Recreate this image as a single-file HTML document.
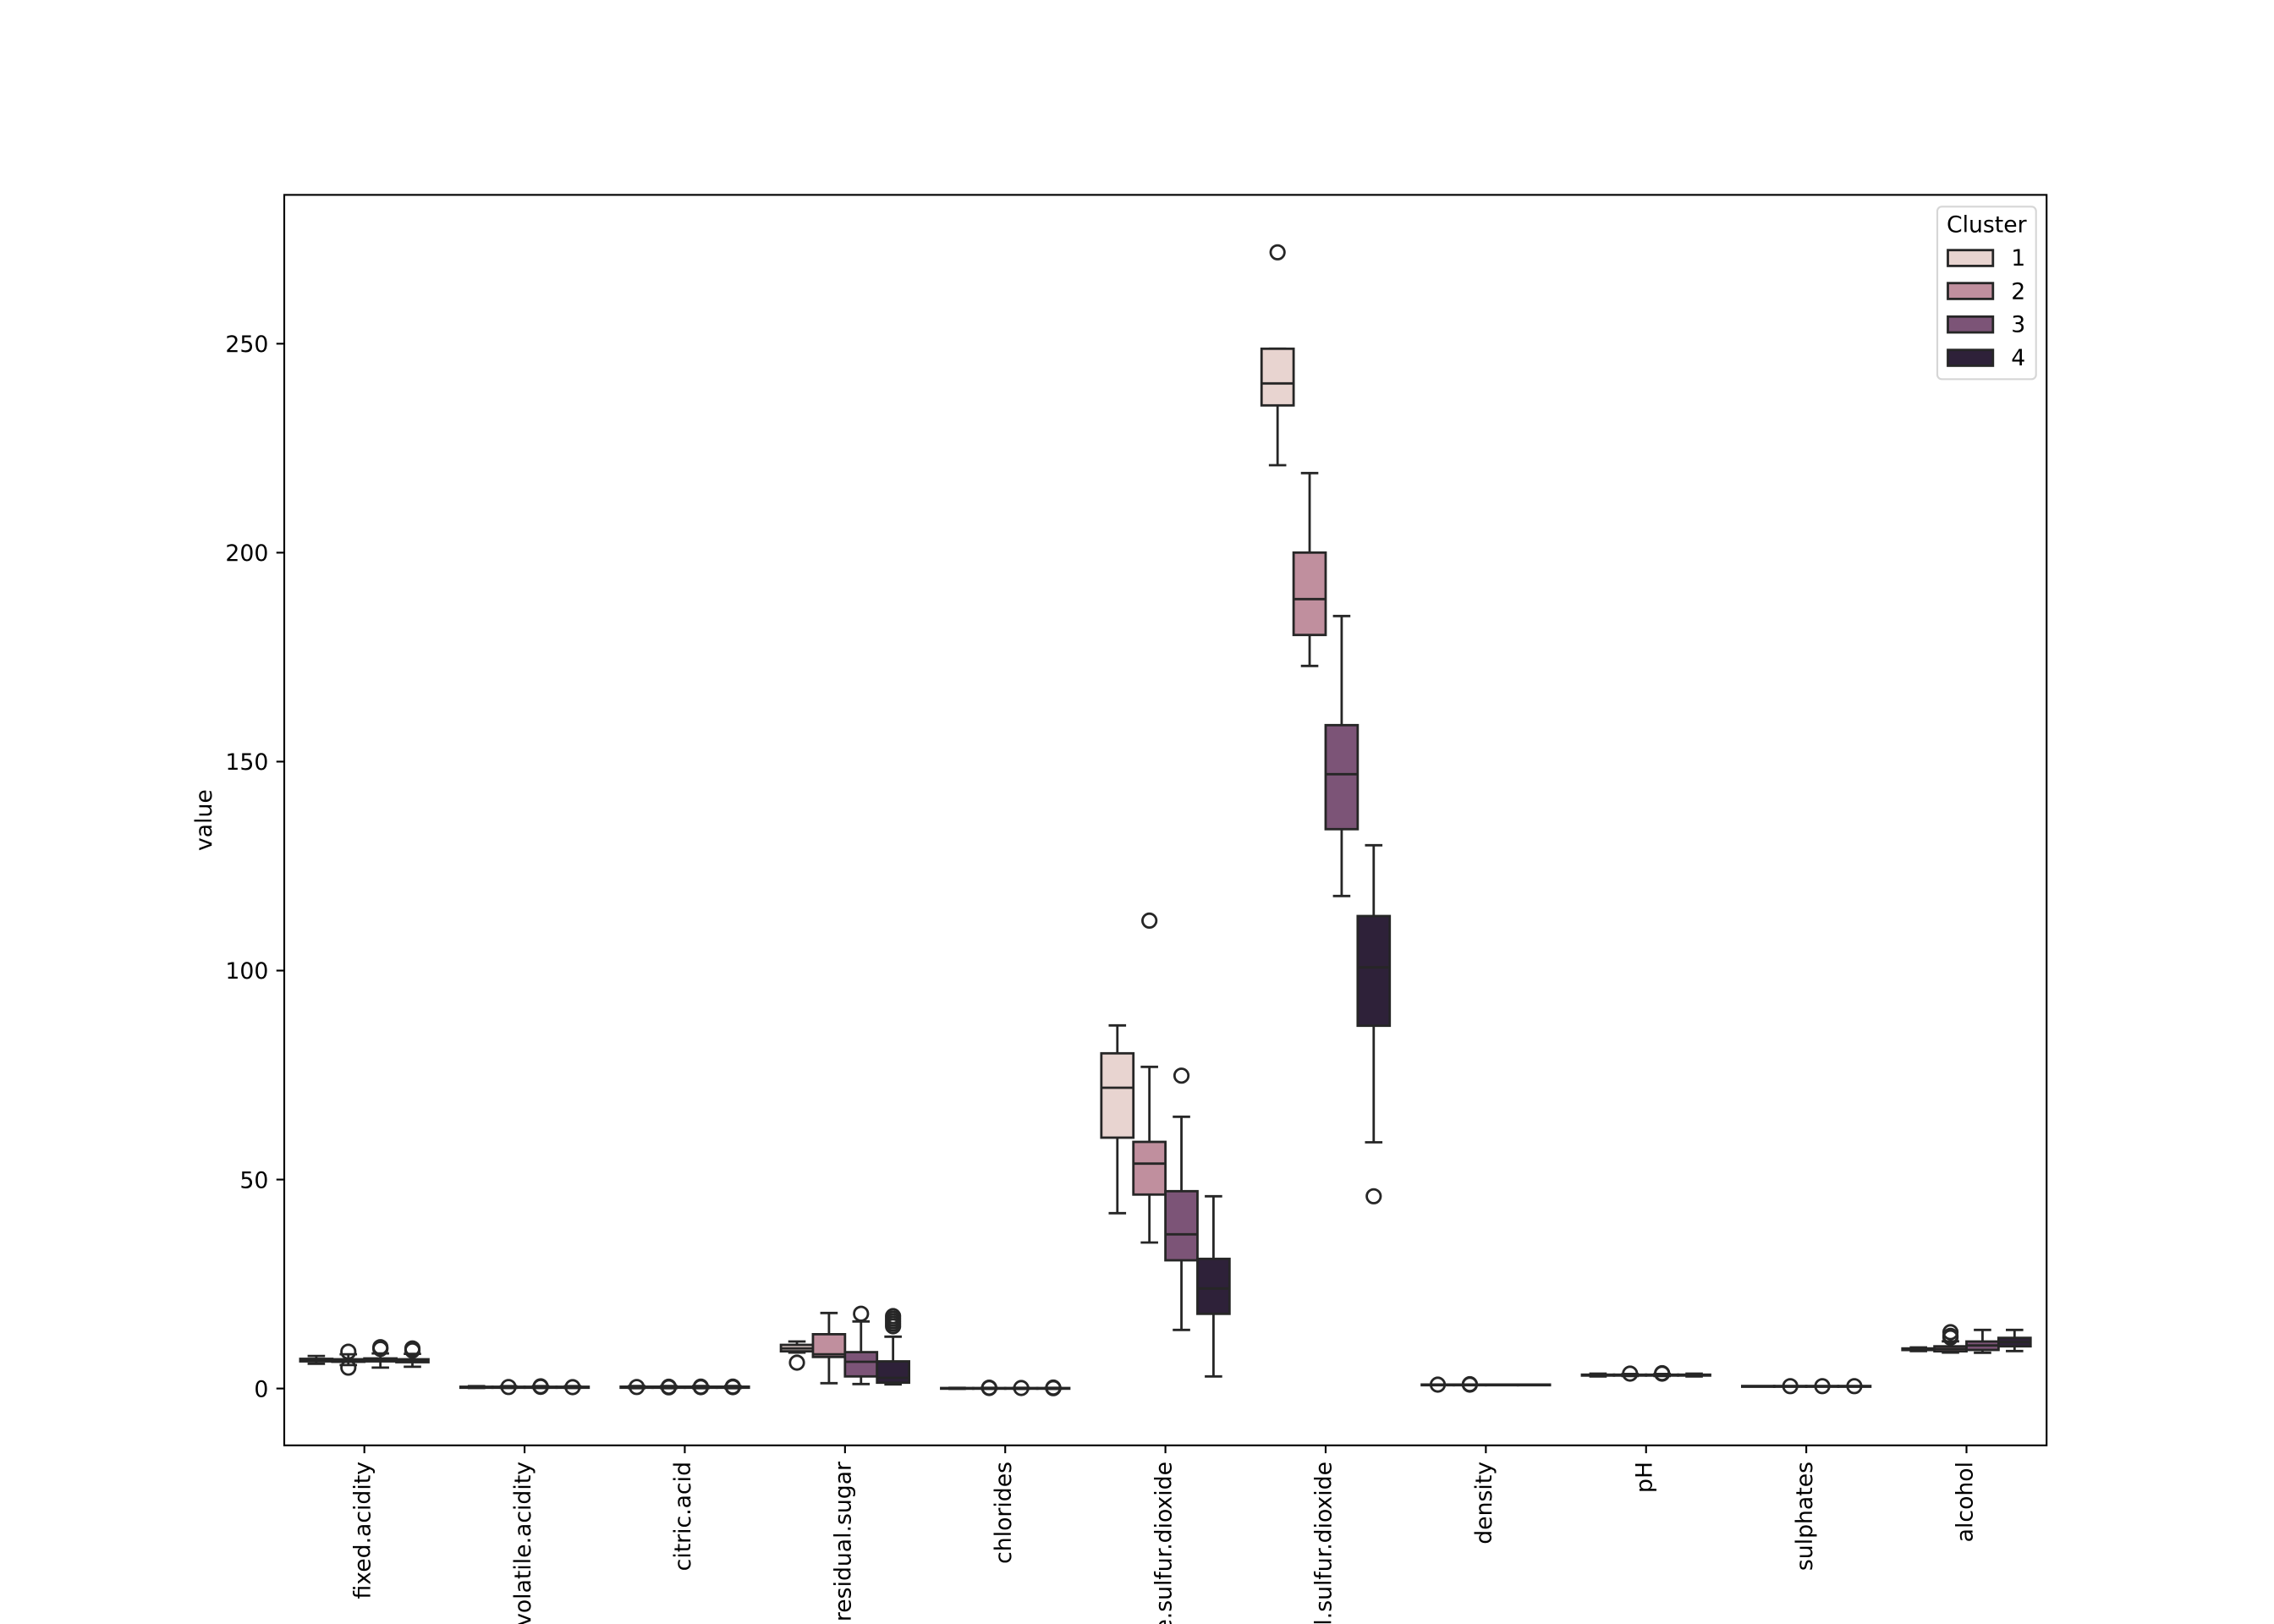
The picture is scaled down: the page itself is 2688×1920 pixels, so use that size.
<!DOCTYPE html>
<html>
<head>
<meta charset="utf-8">
<style>
html,body{margin:0;padding:0;background:#ffffff;}
svg{display:block;}
text{font-family:"DejaVu Sans","Liberation Sans",sans-serif;fill:#000;}
</style>
</head>
<body>
<svg width="2688" height="1920" viewBox="0 0 2688 1920" xmlns="http://www.w3.org/2000/svg">
<rect x="0" y="0" width="2688" height="1920" fill="#ffffff"/>

<!-- boxes -->
<g stroke="#262626" stroke-width="2.8" stroke-linecap="butt">

<!-- ===== fixed.acidity ===== -->
<g>
<line x1="373.88" y1="1606.5" x2="373.88" y2="1603.1"/><line x1="373.88" y1="1609.5" x2="373.88" y2="1612.4"/>
<line x1="363.6" y1="1603.1" x2="384.2" y2="1603.1"/><line x1="363.6" y1="1612.4" x2="384.2" y2="1612.4"/>
<rect x="354.94" y="1606.5" width="37.88" height="3.0" fill="#e8d4d0"/>
<line x1="354.94" y1="1608" x2="392.82" y2="1608"/>

<line x1="411.75" y1="1607.0" x2="411.75" y2="1601.1"/><line x1="411.75" y1="1610.0" x2="411.75" y2="1613.9"/>
<line x1="401.45" y1="1601.1" x2="422.05" y2="1601.1"/><line x1="401.45" y1="1613.9" x2="422.05" y2="1613.9"/>
<rect x="392.81" y="1607.0" width="37.88" height="3.0" fill="#c08f9e"/>
<line x1="392.81" y1="1608.5" x2="430.69" y2="1608.5"/>
<circle cx="411.75" cy="1598.1" r="8.2" fill="none"/><circle cx="411.75" cy="1616.9" r="8.2" fill="none"/>

<line x1="449.63" y1="1606.0" x2="449.63" y2="1600.1"/><line x1="449.63" y1="1609.5" x2="449.63" y2="1616.9"/>
<line x1="439.33" y1="1600.1" x2="459.93" y2="1600.1"/><line x1="439.33" y1="1616.9" x2="459.93" y2="1616.9"/>
<rect x="430.69" y="1606.0" width="37.88" height="3.5" fill="#7c5477"/>
<line x1="430.69" y1="1607.5" x2="468.57" y2="1607.5"/>
<circle cx="449.63" cy="1593.7" r="8.2" fill="none"/><circle cx="449.63" cy="1592.7" r="8.2" fill="none"/><circle cx="449.63" cy="1594.7" r="8.2" fill="none"/>

<line x1="487.50" y1="1607.0" x2="487.50" y2="1600.6"/><line x1="487.50" y1="1610.5" x2="487.50" y2="1615.9"/>
<line x1="477.2" y1="1600.6" x2="497.8" y2="1600.6"/><line x1="477.2" y1="1615.9" x2="497.8" y2="1615.9"/>
<rect x="468.56" y="1607.0" width="37.88" height="3.5" fill="#2e2139"/>
<line x1="468.56" y1="1609" x2="506.44" y2="1609"/>
<circle cx="487.50" cy="1596.6" r="8.2" fill="none"/><circle cx="487.50" cy="1595.2" r="8.2" fill="none"/><circle cx="487.50" cy="1594.2" r="8.2" fill="none"/>
</g>

<!-- ===== volatile.acidity ===== -->
<g>
<rect x="544.32" y="1639.5" width="37.88" height="1.2" fill="#e8d4d0"/>
<line x1="552.96" y1="1638.8" x2="573.56" y2="1638.8"/><line x1="552.96" y1="1641.0" x2="573.56" y2="1641.0"/>
<rect x="582.19" y="1639.5" width="37.88" height="1.2" fill="#c08f9e"/>
<line x1="590.83" y1="1638.8" x2="611.43" y2="1638.8"/><line x1="590.83" y1="1641.0" x2="611.43" y2="1641.0"/>
<rect x="620.07" y="1639.5" width="37.88" height="1.2" fill="#7c5477"/>
<line x1="628.71" y1="1638.8" x2="649.31" y2="1638.8"/><line x1="628.71" y1="1641.0" x2="649.31" y2="1641.0"/>
<rect x="657.94" y="1639.5" width="37.88" height="1.2" fill="#2e2139"/>
<line x1="666.58" y1="1638.8" x2="687.18" y2="1638.8"/><line x1="666.58" y1="1641.0" x2="687.18" y2="1641.0"/>
<circle cx="601.13" cy="1639.8" r="8.2" fill="none"/>
<circle cx="639.01" cy="1639.6" r="8.2" fill="none"/><circle cx="639.01" cy="1639.0" r="8.2" fill="none"/>
<circle cx="676.88" cy="1640.0" r="8.2" fill="none"/>
</g>

<!-- ===== citric.acid ===== -->
<g>
<rect x="733.70" y="1639.4" width="37.88" height="1.3" fill="#e8d4d0"/>
<line x1="742.34" y1="1638.7" x2="762.94" y2="1638.7"/><line x1="742.34" y1="1641.2" x2="762.94" y2="1641.2"/>
<rect x="771.57" y="1639.4" width="37.88" height="1.3" fill="#c08f9e"/>
<line x1="780.21" y1="1638.7" x2="800.81" y2="1638.7"/><line x1="780.21" y1="1641.2" x2="800.81" y2="1641.2"/>
<rect x="809.45" y="1639.4" width="37.88" height="1.3" fill="#7c5477"/>
<line x1="818.09" y1="1638.7" x2="838.69" y2="1638.7"/><line x1="818.09" y1="1641.2" x2="838.69" y2="1641.2"/>
<rect x="847.32" y="1639.4" width="37.88" height="1.3" fill="#2e2139"/>
<line x1="855.96" y1="1638.7" x2="876.56" y2="1638.7"/><line x1="855.96" y1="1641.2" x2="876.56" y2="1641.2"/>
<circle cx="752.64" cy="1639.8" r="8.2" fill="none"/>
<circle cx="790.51" cy="1639.5" r="8.2" fill="none"/><circle cx="790.51" cy="1640.2" r="8.2" fill="none"/>
<circle cx="828.39" cy="1640.0" r="8.2" fill="none"/><circle cx="828.39" cy="1639.4" r="8.2" fill="none"/>
<circle cx="866.26" cy="1640.0" r="8.2" fill="none"/><circle cx="866.26" cy="1639.3" r="8.2" fill="none"/>
</g>

<!-- ===== residual.sugar ===== -->
<g>
<line x1="942.03" y1="1590.0" x2="942.03" y2="1586.0"/><line x1="942.03" y1="1597.6" x2="942.03" y2="1599.1"/>
<line x1="931.73" y1="1586.0" x2="952.33" y2="1586.0"/><line x1="931.73" y1="1599.1" x2="952.33" y2="1599.1"/>
<rect x="923.09" y="1590.0" width="37.88" height="7.6" fill="#e8d4d0"/>
<line x1="923.09" y1="1594.2" x2="960.97" y2="1594.2"/>
<circle cx="942.03" cy="1611.0" r="8.2" fill="none"/>

<line x1="979.90" y1="1577.4" x2="979.90" y2="1552.3"/><line x1="979.90" y1="1604.3" x2="979.90" y2="1635.3"/>
<line x1="969.6" y1="1552.3" x2="990.2" y2="1552.3"/><line x1="969.6" y1="1635.3" x2="990.2" y2="1635.3"/>
<rect x="960.96" y="1577.4" width="37.88" height="26.9" fill="#c08f9e"/>
<line x1="960.96" y1="1601.1" x2="998.84" y2="1601.1"/>

<line x1="1017.78" y1="1598.6" x2="1017.78" y2="1562.3"/><line x1="1017.78" y1="1627.3" x2="1017.78" y2="1636.3"/>
<line x1="1007.48" y1="1562.3" x2="1028.08" y2="1562.3"/><line x1="1007.48" y1="1636.3" x2="1028.08" y2="1636.3"/>
<rect x="998.84" y="1598.6" width="37.88" height="28.7" fill="#7c5477"/>
<line x1="998.84" y1="1610.0" x2="1036.72" y2="1610.0"/>
<circle cx="1017.78" cy="1553.2" r="8.2" fill="none"/>

<line x1="1055.65" y1="1609.5" x2="1055.65" y2="1580.3"/><line x1="1055.65" y1="1634.7" x2="1055.65" y2="1636.7"/>
<line x1="1045.35" y1="1580.3" x2="1065.95" y2="1580.3"/><line x1="1045.35" y1="1636.7" x2="1065.95" y2="1636.7"/>
<rect x="1036.71" y="1609.5" width="37.88" height="25.2" fill="#2e2139"/>
<line x1="1036.71" y1="1629.0" x2="1074.59" y2="1629.0"/>
<circle cx="1055.65" cy="1556" r="8.2" fill="none"/><circle cx="1055.65" cy="1559" r="8.2" fill="none"/><circle cx="1055.65" cy="1562" r="8.2" fill="none"/><circle cx="1055.65" cy="1565" r="8.2" fill="none"/><circle cx="1055.65" cy="1568" r="8.2" fill="none"/>
</g>

<!-- ===== chlorides ===== -->
<g>
<rect x="1112.47" y="1641.0" width="37.88" height="0.8" fill="#e8d4d0"/>
<line x1="1121.11" y1="1640.8" x2="1141.71" y2="1640.8"/><line x1="1121.11" y1="1642.0" x2="1141.71" y2="1642.0"/>
<rect x="1150.34" y="1641.0" width="37.88" height="0.8" fill="#c08f9e"/>
<line x1="1158.98" y1="1640.8" x2="1179.58" y2="1640.8"/><line x1="1158.98" y1="1642.0" x2="1179.58" y2="1642.0"/>
<rect x="1188.22" y="1641.0" width="37.88" height="0.8" fill="#7c5477"/>
<line x1="1196.86" y1="1640.8" x2="1217.46" y2="1640.8"/><line x1="1196.86" y1="1642.0" x2="1217.46" y2="1642.0"/>
<rect x="1226.09" y="1641.0" width="37.88" height="0.8" fill="#2e2139"/>
<line x1="1234.73" y1="1640.8" x2="1255.33" y2="1640.8"/><line x1="1234.73" y1="1642.0" x2="1255.33" y2="1642.0"/>
<circle cx="1169.28" cy="1641.0" r="8.2" fill="none"/><circle cx="1169.28" cy="1640.6" r="8.2" fill="none"/>
<circle cx="1207.16" cy="1641.0" r="8.2" fill="none"/>
<circle cx="1245.03" cy="1641.2" r="8.2" fill="none"/><circle cx="1245.03" cy="1640.5" r="8.2" fill="none"/>
</g>

<!-- ===== free.sulfur.dioxide ===== -->
<g>
<line x1="1320.79" y1="1245.3" x2="1320.79" y2="1212.3"/><line x1="1320.79" y1="1345.0" x2="1320.79" y2="1434.3"/>
<line x1="1310.49" y1="1212.3" x2="1331.09" y2="1212.3"/><line x1="1310.49" y1="1434.3" x2="1331.09" y2="1434.3"/>
<rect x="1301.85" y="1245.3" width="37.88" height="99.7" fill="#e8d4d0"/>
<line x1="1301.85" y1="1286.0" x2="1339.73" y2="1286.0"/>

<line x1="1358.66" y1="1350.0" x2="1358.66" y2="1261.3"/><line x1="1358.66" y1="1412.3" x2="1358.66" y2="1469.0"/>
<line x1="1348.36" y1="1261.3" x2="1368.96" y2="1261.3"/><line x1="1348.36" y1="1469.0" x2="1368.96" y2="1469.0"/>
<rect x="1339.72" y="1350.0" width="37.88" height="62.3" fill="#c08f9e"/>
<line x1="1339.72" y1="1375.7" x2="1377.60" y2="1375.7"/>
<circle cx="1358.66" cy="1088.4" r="8.2" fill="none"/>

<line x1="1396.54" y1="1408.3" x2="1396.54" y2="1320.3"/><line x1="1396.54" y1="1490.0" x2="1396.54" y2="1572.3"/>
<line x1="1386.24" y1="1320.3" x2="1406.84" y2="1320.3"/><line x1="1386.24" y1="1572.3" x2="1406.84" y2="1572.3"/>
<rect x="1377.60" y="1408.3" width="37.88" height="81.7" fill="#7c5477"/>
<line x1="1377.60" y1="1459.3" x2="1415.48" y2="1459.3"/>
<circle cx="1396.54" cy="1271.7" r="8.2" fill="none"/>

<line x1="1434.41" y1="1488.3" x2="1434.41" y2="1414.3"/><line x1="1434.41" y1="1553.3" x2="1434.41" y2="1627.3"/>
<line x1="1424.11" y1="1414.3" x2="1444.71" y2="1414.3"/><line x1="1424.11" y1="1627.3" x2="1444.71" y2="1627.3"/>
<rect x="1415.47" y="1488.3" width="37.88" height="65.0" fill="#2e2139"/>
<line x1="1415.47" y1="1523.3" x2="1453.35" y2="1523.3"/>
</g>

<!-- ===== total.sulfur.dioxide ===== -->
<g>
<line x1="1499.87" y1="412.3" x2="1520.47" y2="412.3"/>
<line x1="1510.17" y1="479.3" x2="1510.17" y2="550.0"/>
<line x1="1499.87" y1="550.0" x2="1520.47" y2="550.0"/>
<rect x="1491.23" y="412.3" width="37.88" height="67.0" fill="#e8d4d0"/>
<line x1="1491.23" y1="453.3" x2="1529.11" y2="453.3"/>
<circle cx="1510.17" cy="298.3" r="8.2" fill="none"/>

<line x1="1548.04" y1="653.3" x2="1548.04" y2="559.3"/><line x1="1548.04" y1="750.7" x2="1548.04" y2="787.3"/>
<line x1="1537.74" y1="559.3" x2="1558.34" y2="559.3"/><line x1="1537.74" y1="787.3" x2="1558.34" y2="787.3"/>
<rect x="1529.10" y="653.3" width="37.88" height="97.4" fill="#c08f9e"/>
<line x1="1529.10" y1="708.3" x2="1566.98" y2="708.3"/>

<line x1="1585.92" y1="857.3" x2="1585.92" y2="728.3"/><line x1="1585.92" y1="980.3" x2="1585.92" y2="1059.3"/>
<line x1="1575.62" y1="728.3" x2="1596.22" y2="728.3"/><line x1="1575.62" y1="1059.3" x2="1596.22" y2="1059.3"/>
<rect x="1566.98" y="857.3" width="37.88" height="123.0" fill="#7c5477"/>
<line x1="1566.98" y1="915.3" x2="1604.86" y2="915.3"/>

<line x1="1623.79" y1="1083.0" x2="1623.79" y2="999.3"/><line x1="1623.79" y1="1212.7" x2="1623.79" y2="1350.5"/>
<line x1="1613.49" y1="999.3" x2="1634.09" y2="999.3"/><line x1="1613.49" y1="1350.5" x2="1634.09" y2="1350.5"/>
<rect x="1604.85" y="1083.0" width="37.88" height="129.7" fill="#2e2139"/>
<line x1="1604.85" y1="1143.7" x2="1642.73" y2="1143.7"/>
<circle cx="1623.79" cy="1414.3" r="8.2" fill="none"/>
</g>

<!-- ===== density ===== -->
<g>
<rect x="1680.61" y="1636.9" width="37.88" height="0.8" fill="#e8d4d0"/>
<rect x="1718.48" y="1636.9" width="37.88" height="0.8" fill="#c08f9e"/>
<rect x="1756.36" y="1636.9" width="37.88" height="0.8" fill="#7c5477"/>
<rect x="1794.23" y="1636.9" width="37.88" height="0.8" fill="#2e2139"/>
<circle cx="1699.55" cy="1637.0" r="8.2" fill="none"/>
<circle cx="1737.42" cy="1637.0" r="8.2" fill="none"/><circle cx="1737.42" cy="1636.5" r="8.2" fill="none"/>
</g>

<!-- ===== pH ===== -->
<g>
<line x1="1878.64" y1="1624.0" x2="1899.24" y2="1624.0"/><line x1="1878.64" y1="1627.4" x2="1899.24" y2="1627.4"/>
<rect x="1870.00" y="1625.2" width="37.88" height="1.1" fill="#e8d4d0"/>
<line x1="1916.51" y1="1624.4" x2="1937.11" y2="1624.4"/><line x1="1916.51" y1="1626.9" x2="1937.11" y2="1626.9"/>
<rect x="1907.87" y="1625.2" width="37.88" height="1.1" fill="#c08f9e"/>
<line x1="1954.39" y1="1624.4" x2="1974.99" y2="1624.4"/><line x1="1954.39" y1="1626.9" x2="1974.99" y2="1626.9"/>
<rect x="1945.75" y="1625.2" width="37.88" height="1.1" fill="#7c5477"/>
<line x1="1992.26" y1="1624.0" x2="2012.86" y2="1624.0"/><line x1="1992.26" y1="1627.4" x2="2012.86" y2="1627.4"/>
<rect x="1983.62" y="1625.2" width="37.88" height="1.1" fill="#2e2139"/>
<circle cx="1926.81" cy="1624.0" r="8.2" fill="none"/>
<circle cx="1964.69" cy="1624.0" r="8.2" fill="none"/><circle cx="1964.69" cy="1623.5" r="8.2" fill="none"/>
</g>

<!-- ===== sulphates ===== -->
<g>
<rect x="2059.38" y="1638.6" width="37.88" height="0.9" fill="#e8d4d0"/>
<rect x="2097.25" y="1638.6" width="37.88" height="0.9" fill="#c08f9e"/>
<rect x="2135.13" y="1638.6" width="37.88" height="0.9" fill="#7c5477"/>
<rect x="2173.00" y="1638.6" width="37.88" height="0.9" fill="#2e2139"/>
<circle cx="2116.19" cy="1638.8" r="8.2" fill="none"/>
<circle cx="2154.07" cy="1638.8" r="8.2" fill="none"/>
<circle cx="2191.94" cy="1638.8" r="8.2" fill="none"/>
</g>

<!-- ===== alcohol ===== -->
<g>
<line x1="2267.70" y1="1594.2" x2="2267.70" y2="1593.0"/><line x1="2267.70" y1="1596.1" x2="2267.70" y2="1597.3"/>
<line x1="2257.4" y1="1593.0" x2="2278.0" y2="1593.0"/><line x1="2257.4" y1="1597.3" x2="2278.0" y2="1597.3"/>
<rect x="2248.76" y="1594.2" width="37.88" height="1.9" fill="#e8d4d0"/>
<line x1="2248.76" y1="1595.2" x2="2286.64" y2="1595.2"/>

<line x1="2305.57" y1="1591.7" x2="2305.57" y2="1585.8"/><line x1="2305.57" y1="1597.6" x2="2305.57" y2="1599.1"/>
<line x1="2295.27" y1="1585.8" x2="2315.87" y2="1585.8"/><line x1="2295.27" y1="1599.1" x2="2315.87" y2="1599.1"/>
<rect x="2286.63" y="1591.7" width="37.88" height="5.9" fill="#c08f9e"/>
<line x1="2286.63" y1="1594.7" x2="2324.51" y2="1594.7"/>
<circle cx="2305.57" cy="1581.3" r="8.2" fill="none"/><circle cx="2305.57" cy="1579.3" r="8.2" fill="none"/><circle cx="2305.57" cy="1575.0" r="8.2" fill="none"/>

<line x1="2343.45" y1="1586.0" x2="2343.45" y2="1572.3"/><line x1="2343.45" y1="1596.0" x2="2343.45" y2="1599.3"/>
<line x1="2333.15" y1="1572.3" x2="2353.75" y2="1572.3"/><line x1="2333.15" y1="1599.3" x2="2353.75" y2="1599.3"/>
<rect x="2324.51" y="1586.0" width="37.88" height="10.0" fill="#7c5477"/>
<line x1="2324.51" y1="1590.7" x2="2362.39" y2="1590.7"/>

<line x1="2381.32" y1="1581.7" x2="2381.32" y2="1572.3"/><line x1="2381.32" y1="1591.7" x2="2381.32" y2="1597.3"/>
<line x1="2371.02" y1="1572.3" x2="2391.62" y2="1572.3"/><line x1="2371.02" y1="1597.3" x2="2391.62" y2="1597.3"/>
<rect x="2362.38" y="1581.7" width="37.88" height="10.0" fill="#2e2139"/>
<line x1="2362.38" y1="1586.7" x2="2400.26" y2="1586.7"/>
</g>
</g>

<!-- axes frame -->
<rect x="336" y="230.4" width="2083.2" height="1478.4" fill="none" stroke="#000" stroke-width="2.13"/>

<!-- y ticks -->
<g stroke="#000" stroke-width="2.13">
<line x1="326.7" y1="1641.6" x2="336" y2="1641.6"/>
<line x1="326.7" y1="1394.55" x2="336" y2="1394.55"/>
<line x1="326.7" y1="1147.5" x2="336" y2="1147.5"/>
<line x1="326.7" y1="900.45" x2="336" y2="900.45"/>
<line x1="326.7" y1="653.4" x2="336" y2="653.4"/>
<line x1="326.7" y1="406.35" x2="336" y2="406.35"/>
</g>
<g font-size="26.67" text-anchor="end">
<text x="317.3" y="1651.3">0</text>
<text x="317.3" y="1404.25">50</text>
<text x="317.3" y="1157.2">100</text>
<text x="317.3" y="910.15">150</text>
<text x="317.3" y="663.1">200</text>
<text x="317.3" y="416.05">250</text>
</g>

<!-- x ticks -->
<g stroke="#000" stroke-width="2.13">
<line x1="430.69" y1="1708.8" x2="430.69" y2="1718.1"/>
<line x1="620.07" y1="1708.8" x2="620.07" y2="1718.1"/>
<line x1="809.45" y1="1708.8" x2="809.45" y2="1718.1"/>
<line x1="998.84" y1="1708.8" x2="998.84" y2="1718.1"/>
<line x1="1188.22" y1="1708.8" x2="1188.22" y2="1718.1"/>
<line x1="1377.60" y1="1708.8" x2="1377.60" y2="1718.1"/>
<line x1="1566.98" y1="1708.8" x2="1566.98" y2="1718.1"/>
<line x1="1756.36" y1="1708.8" x2="1756.36" y2="1718.1"/>
<line x1="1945.75" y1="1708.8" x2="1945.75" y2="1718.1"/>
<line x1="2135.13" y1="1708.8" x2="2135.13" y2="1718.1"/>
<line x1="2324.51" y1="1708.8" x2="2324.51" y2="1718.1"/>
</g>
<g font-size="26.67" text-anchor="end">
<text transform="translate(437.4,1728) rotate(-90)">fixed.acidity</text>
<text transform="translate(626.8,1728) rotate(-90)">volatile.acidity</text>
<text transform="translate(816.2,1728) rotate(-90)">citric.acid</text>
<text transform="translate(1005.6,1728) rotate(-90)">residual.sugar</text>
<text transform="translate(1195.0,1728) rotate(-90)">chlorides</text>
<text transform="translate(1384.3,1728) rotate(-90)">free.sulfur.dioxide</text>
<text transform="translate(1573.7,1728) rotate(-90)">total.sulfur.dioxide</text>
<text transform="translate(1763.1,1728) rotate(-90)">density</text>
<text transform="translate(1952.5,1728) rotate(-90)">pH</text>
<text transform="translate(2141.9,1728) rotate(-90)">sulphates</text>
<text transform="translate(2331.3,1728) rotate(-90)">alcohol</text>
</g>

<!-- y label -->
<text font-size="26.67" text-anchor="middle" transform="translate(250,969.6) rotate(-90)">value</text>

<!-- legend -->
<rect x="2290" y="244.3" width="116.7" height="204" rx="5.3" ry="5.3" fill="#ffffff" fill-opacity="0.8" stroke="#d6d6d6" stroke-width="2.13"/>
<text x="2348.3" y="274.6" font-size="26.67" text-anchor="middle">Cluster</text>
<g stroke="#262626" stroke-width="2.8">
<rect x="2302.5" y="295.7" width="53.3" height="18.7" fill="#e8d4d0"/>
<rect x="2302.5" y="334.7" width="53.3" height="18.7" fill="#c08f9e"/>
<rect x="2302.5" y="374.3" width="53.3" height="18.7" fill="#7c5477"/>
<rect x="2302.5" y="413.7" width="53.3" height="18.7" fill="#2e2139"/>
</g>
<g font-size="26.67">
<text x="2377.3" y="314.2">1</text>
<text x="2377.3" y="353.3">2</text>
<text x="2377.3" y="392.5">3</text>
<text x="2377.3" y="431.8">4</text>
</g>
</svg>
</body>
</html>
